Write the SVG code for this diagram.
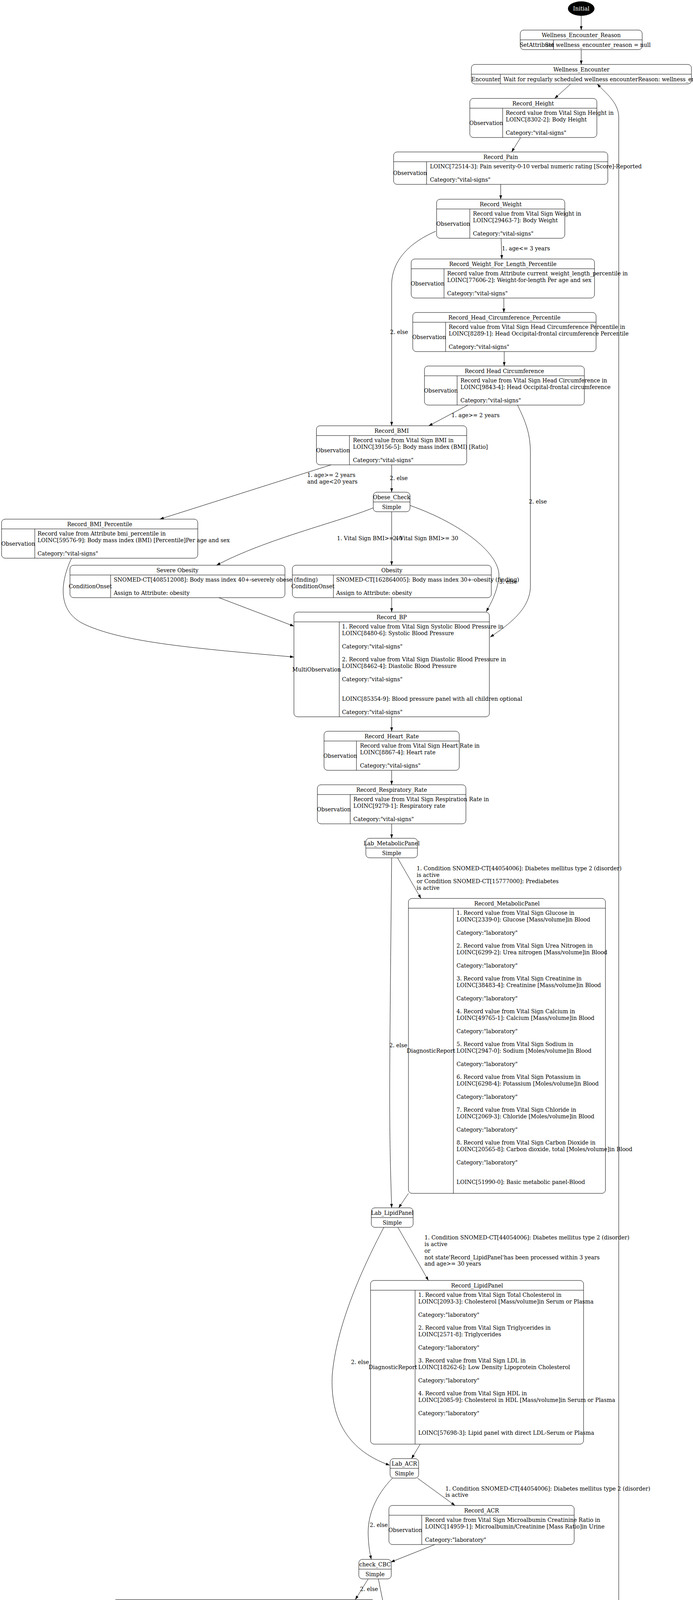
<svg xmlns="http://www.w3.org/2000/svg" width="1773" height="7166" viewBox="0 0 1773 7166">
<defs>
<style>
text{font-family:"DejaVu Serif","Liberation Serif",serif;font-size:14px;fill:#000}
.c{text-anchor:middle}
.b{fill:none;stroke:#000;stroke-width:1}
.l{stroke:#000;stroke-width:1}
#edges path{fill:none;stroke:#000;stroke-width:1;marker-end:url(#a)}
</style>
<marker id="a" viewBox="0 0 10 7" refX="10" refY="3.5" markerWidth="10" markerHeight="7" markerUnits="userSpaceOnUse" orient="auto"><path d="M0,0L10,3.5L0,7z" fill="#000"/></marker>
</defs>
<rect width="1773" height="7166" fill="#fff"/>
<g id="nodes">
<g id="n_initial"><ellipse cx="1487" cy="22" rx="34" ry="18.5" fill="#000"/><text class="c" x="1487" y="27" style="fill:#fff">Initial</text></g>
<g id="n_wer"><rect class="b" x="1331" y="77" width="312" height="50" rx="9"/><line class="l" x1="1331" y1="102" x2="1643" y2="102"/><line class="l" x1="1416" y1="102" x2="1416" y2="127"/><text class="c" x="1487" y="94.5">Wellness_Encounter_Reason</text><text class="c" x="1373.5" y="119.5">SetAttribute</text><text class="c" x="1529.5" y="119.5">Set wellness_encounter_reason = null</text></g>
<g id="n_we"><rect class="b" x="1206" y="165" width="563" height="50" rx="9"/><line class="l" x1="1206" y1="190" x2="1769" y2="190"/><line class="l" x1="1280" y1="190" x2="1280" y2="215"/><text class="c" x="1487.5" y="182.5">Wellness_Encounter</text><text class="c" x="1243" y="207.5">Encounter</text><text x="1288" y="207.5">Wait for regularly scheduled wellness encounterReason: wellness_encounter_reason</text></g>
<g id="n_height"><rect class="b" x="1202" y="252" width="325" height="100" rx="9"/><line class="l" x1="1202" y1="277" x2="1527" y2="277"/><line class="l" x1="1286" y1="277" x2="1286" y2="352"/><text class="c" x="1364" y="269.5">Record_Height</text><text class="c" x="1244" y="319.5">Observation</text><text x="1294" y="294.4">Record value from Vital Sign Height in</text><text x="1294" y="311.2">LOINC[8302-2]: Body Height</text><text x="1294" y="344.8">Category:"vital-signs"</text></g>
<g id="n_pain"><rect class="b" x="1007" y="389" width="548" height="83" rx="9"/><line class="l" x1="1007" y1="414" x2="1555" y2="414"/><line class="l" x1="1091.5" y1="414" x2="1091.5" y2="472"/><text class="c" x="1281" y="406.5">Record_Pain</text><text class="c" x="1049" y="448">Observation</text><text x="1100" y="431.4">LOINC[72514-3]: Pain severity-0-10 verbal numeric rating [Score]-Reported</text><text x="1100" y="465">Category:"vital-signs"</text></g>
<g id="n_weight"><rect class="b" x="1117" y="510" width="328" height="100" rx="9"/><line class="l" x1="1117" y1="535" x2="1445" y2="535"/><line class="l" x1="1202" y1="535" x2="1202" y2="610"/><text class="c" x="1281" y="527.5">Record_Weight</text><text class="c" x="1159.5" y="577.5">Observation</text><text x="1210" y="552.4">Record value from Vital Sign Weight in</text><text x="1210" y="569.2">LOINC[29463-7]: Body Weight</text><text x="1210" y="602.8">Category:"vital-signs"</text></g>
<g id="n_wfl"><rect class="b" x="1052" y="663" width="469" height="100" rx="9"/><line class="l" x1="1052" y1="688" x2="1521" y2="688"/><line class="l" x1="1136" y1="688" x2="1136" y2="763"/><text class="c" x="1286.5" y="680.5">Record_Weight_For_Length_Percentile</text><text class="c" x="1094" y="730.5">Observation</text><text x="1144" y="705.4">Record value from Attribute current_weight_length_percentile in</text><text x="1144" y="722.2">LOINC[77606-2]: Weight-for-length Per age and sex</text><text x="1144" y="755.8">Category:"vital-signs"</text></g>
<g id="n_hcp"><rect class="b" x="1056" y="800" width="469" height="100" rx="9"/><line class="l" x1="1056" y1="825" x2="1525" y2="825"/><line class="l" x1="1140" y1="825" x2="1140" y2="900"/><text class="c" x="1290.5" y="817.5">Record_Head_Circumference_Percentile</text><text class="c" x="1098" y="867.5">Observation</text><text x="1148" y="842.4">Record value from Vital Sign Head Circumference Percentile in</text><text x="1148" y="859.2">LOINC[8289-1]: Head Occipital-frontal circumference Percentile</text><text x="1148" y="892.8">Category:"vital-signs"</text></g>
<g id="n_hc"><rect class="b" x="1086" y="937" width="409" height="100" rx="9"/><line class="l" x1="1086" y1="962" x2="1495" y2="962"/><line class="l" x1="1169.5" y1="962" x2="1169.5" y2="1037"/><text class="c" x="1290.5" y="954.5">Record Head Circumference</text><text class="c" x="1128" y="1004.5">Observation</text><text x="1178" y="979.4">Record value from Vital Sign Head Circumference in</text><text x="1178" y="996.2">LOINC[9843-4]: Head Occipital-frontal circumference</text><text x="1178" y="1029.8">Category:"vital-signs"</text></g>
<g id="n_bmi"><rect class="b" x="809.5" y="1090" width="384.5" height="100" rx="9"/><line class="l" x1="809.5" y1="1115" x2="1194" y2="1115"/><line class="l" x1="894" y1="1115" x2="894" y2="1190"/><text class="c" x="1002" y="1107.5">Record_BMI</text><text class="c" x="852" y="1157.5">Observation</text><text x="903" y="1132.4">Record value from Vital Sign BMI in</text><text x="903" y="1149.2">LOINC[39156-5]: Body mass index (BMI) [Ratio]</text><text x="903" y="1182.8">Category:"vital-signs"</text></g>
<g id="n_obese_check"><rect class="b" x="955" y="1260" width="94" height="50" rx="9"/><line class="l" x1="955" y1="1285" x2="1049" y2="1285"/><text class="c" x="1002" y="1277.5">Obese_Check</text><text class="c" x="1002" y="1302.5">Simple</text></g>
<g id="n_bmi_pct"><rect class="b" x="4" y="1329" width="502" height="100" rx="9"/><line class="l" x1="4" y1="1354" x2="506" y2="1354"/><line class="l" x1="89" y1="1354" x2="89" y2="1429"/><text class="c" x="255" y="1346.5">Record_BMI_Percentile</text><text class="c" x="46.5" y="1396.5">Observation</text><text x="96" y="1371.4">Record value from Attribute bmi_percentile in</text><text x="96" y="1388.2">LOINC[59576-9]: Body mass index (BMI) [Percentile]Per age and sex</text><text x="96" y="1421.8">Category:"vital-signs"</text></g>
<g id="n_severe"><rect class="b" x="179" y="1447" width="550" height="83" rx="9"/><line class="l" x1="179" y1="1472" x2="729" y2="1472"/><line class="l" x1="283" y1="1472" x2="283" y2="1530"/><text class="c" x="454" y="1464.5">Severe Obesity</text><text class="c" x="231" y="1506">ConditionOnset</text><text x="291" y="1489.4">SNOMED-CT[408512008]: Body mass index 40+-severely obese (finding)</text><text x="291" y="1523">Assign to Attribute: obesity</text></g>
<g id="n_obesity"><rect class="b" x="748" y="1447" width="509" height="83" rx="9"/><line class="l" x1="748" y1="1472" x2="1257" y2="1472"/><line class="l" x1="853" y1="1472" x2="853" y2="1530"/><text class="c" x="1002.5" y="1464.5">Obesity</text><text class="c" x="800.5" y="1506">ConditionOnset</text><text x="860" y="1489.4">SNOMED-CT[162864005]: Body mass index 30+-obesity (finding)</text><text x="860" y="1523">Assign to Attribute: obesity</text></g>
<g id="n_bp"><rect class="b" x="752" y="1567" width="500" height="268" rx="9"/><line class="l" x1="752" y1="1592" x2="1252" y2="1592"/><line class="l" x1="868" y1="1592" x2="868" y2="1835"/><text class="c" x="1002" y="1584.5">Record_BP</text><text class="c" x="810" y="1718.5">MultiObservation</text><text x="875" y="1609.4">1. Record value from Vital Sign Systolic Blood Pressure in</text><text x="875" y="1626.2">LOINC[8480-6]: Systolic Blood Pressure</text><text x="875" y="1659.8">Category:"vital-signs"</text><text x="875" y="1693.4">2. Record value from Vital Sign Diastolic Blood Pressure in</text><text x="875" y="1710.2">LOINC[8462-4]: Diastolic Blood Pressure</text><text x="875" y="1743.8">Category:"vital-signs"</text><text x="875" y="1794.2">LOINC[85354-9]: Blood pressure panel with all children optional</text><text x="875" y="1827.8">Category:"vital-signs"</text></g>
<g id="n_hr"><rect class="b" x="829" y="1872" width="346" height="100" rx="9"/><line class="l" x1="829" y1="1897" x2="1175" y2="1897"/><line class="l" x1="912" y1="1897" x2="912" y2="1972"/><text class="c" x="1002" y="1889.5">Record_Heart_Rate</text><text class="c" x="870.5" y="1939.5">Observation</text><text x="921" y="1914.4">Record value from Vital Sign Heart Rate in</text><text x="921" y="1931.2">LOINC[8867-4]: Heart rate</text><text x="921" y="1964.8">Category:"vital-signs"</text></g>
<g id="n_rr"><rect class="b" x="812" y="2009" width="380" height="100" rx="9"/><line class="l" x1="812" y1="2034" x2="1192" y2="2034"/><line class="l" x1="896" y1="2034" x2="896" y2="2109"/><text class="c" x="1002" y="2026.5">Record_Respiratory_Rate</text><text class="c" x="854" y="2076.5">Observation</text><text x="904" y="2051.4">Record value from Vital Sign Respiration Rate in</text><text x="904" y="2068.2">LOINC[9279-1]: Respiratory rate</text><text x="904" y="2101.8">Category:"vital-signs"</text></g>
<g id="n_lab_meta"><rect class="b" x="936" y="2146" width="132" height="50" rx="9"/><line class="l" x1="936" y1="2171" x2="1068" y2="2171"/><text class="c" x="1002" y="2163.5">Lab_MetabolicPanel</text><text class="c" x="1002" y="2188.5">Simple</text></g>
<g id="n_meta"><rect class="b" x="1045" y="2300" width="504" height="755" rx="9"/><line class="l" x1="1045" y1="2325" x2="1549" y2="2325"/><line class="l" x1="1160" y1="2325" x2="1160" y2="3055"/><text class="c" x="1297" y="2317.5">Record_MetabolicPanel</text><text class="c" x="1102.5" y="2695">DiagnosticReport</text>
<text x="1168" y="2342.4">1. Record value from Vital Sign Glucose in</text><text x="1168" y="2359.2">LOINC[2339-0]: Glucose [Mass/volume]in Blood</text><text x="1168" y="2392.8">Category:"laboratory"</text>
<text x="1168" y="2426.4">2. Record value from Vital Sign Urea Nitrogen in</text><text x="1168" y="2443.2">LOINC[6299-2]: Urea nitrogen [Mass/volume]in Blood</text><text x="1168" y="2476.8">Category:"laboratory"</text>
<text x="1168" y="2510.4">3. Record value from Vital Sign Creatinine in</text><text x="1168" y="2527.2">LOINC[38483-4]: Creatinine [Mass/volume]in Blood</text><text x="1168" y="2560.8">Category:"laboratory"</text>
<text x="1168" y="2594.4">4. Record value from Vital Sign Calcium in</text><text x="1168" y="2611.2">LOINC[49765-1]: Calcium [Mass/volume]in Blood</text><text x="1168" y="2644.8">Category:"laboratory"</text>
<text x="1168" y="2678.4">5. Record value from Vital Sign Sodium in</text><text x="1168" y="2695.2">LOINC[2947-0]: Sodium [Moles/volume]in Blood</text><text x="1168" y="2728.8">Category:"laboratory"</text>
<text x="1168" y="2762.4">6. Record value from Vital Sign Potassium in</text><text x="1168" y="2779.2">LOINC[6298-4]: Potassium [Moles/volume]in Blood</text><text x="1168" y="2812.8">Category:"laboratory"</text>
<text x="1168" y="2846.4">7. Record value from Vital Sign Chloride in</text><text x="1168" y="2863.2">LOINC[2069-3]: Chloride [Moles/volume]in Blood</text><text x="1168" y="2896.8">Category:"laboratory"</text>
<text x="1168" y="2930.4">8. Record value from Vital Sign Carbon Dioxide in</text><text x="1168" y="2947.2">LOINC[20565-8]: Carbon dioxide, total [Moles/volume]in Blood</text><text x="1168" y="2980.8">Category:"laboratory"</text>
<text x="1168" y="3031.2">LOINC[51990-0]: Basic metabolic panel-Blood</text></g>
<g id="n_lab_lipid"><rect class="b" x="950" y="3092" width="107" height="50" rx="9"/><line class="l" x1="950" y1="3117" x2="1057" y2="3117"/><text class="c" x="1003.5" y="3109.5">Lab_LipidPanel</text><text class="c" x="1003.5" y="3134.5">Simple</text></g>
<g id="n_lipid"><rect class="b" x="948" y="3278" width="545" height="419" rx="9"/><line class="l" x1="948" y1="3303" x2="1493" y2="3303"/><line class="l" x1="1062" y1="3303" x2="1062" y2="3697"/><text class="c" x="1220.5" y="3295.5">Record_LipidPanel</text><text class="c" x="1005" y="3505">DiagnosticReport</text>
<text x="1070" y="3320.4">1. Record value from Vital Sign Total Cholesterol in</text><text x="1070" y="3337.2">LOINC[2093-3]: Cholesterol [Mass/volume]in Serum or Plasma</text><text x="1070" y="3370.8">Category:"laboratory"</text>
<text x="1070" y="3404.4">2. Record value from Vital Sign Triglycerides in</text><text x="1070" y="3421.2">LOINC[2571-8]: Triglycerides</text><text x="1070" y="3454.8">Category:"laboratory"</text>
<text x="1070" y="3488.4">3. Record value from Vital Sign LDL in</text><text x="1070" y="3505.2">LOINC[18262-6]: Low Density Lipoprotein Cholesterol</text><text x="1070" y="3538.8">Category:"laboratory"</text>
<text x="1070" y="3572.4">4. Record value from Vital Sign HDL in</text><text x="1070" y="3589.2">LOINC[2085-9]: Cholesterol in HDL [Mass/volume]in Serum or Plasma</text><text x="1070" y="3622.8">Category:"laboratory"</text>
<text x="1070" y="3673.2">LOINC[57698-3]: Lipid panel with direct LDL-Serum or Plasma</text></g>
<g id="n_lab_acr"><rect class="b" x="998" y="3734" width="73" height="50" rx="9"/><line class="l" x1="998" y1="3759" x2="1071" y2="3759"/><text class="c" x="1034.5" y="3751.5">Lab_ACR</text><text class="c" x="1034.5" y="3776.5">Simple</text></g>
<g id="n_acr"><rect class="b" x="995" y="3854" width="474" height="100" rx="9"/><line class="l" x1="995" y1="3879" x2="1469" y2="3879"/><line class="l" x1="1079" y1="3879" x2="1079" y2="3954"/><text class="c" x="1232" y="3871.5">Record_ACR</text><text class="c" x="1037" y="3921.5">Observation</text><text x="1087.5" y="3896.4">Record value from Vital Sign Microalbumin Creatinine Ratio in</text><text x="1087.5" y="3913.2">LOINC[14959-1]: Microalbumin/Creatinine [Mass Ratio]in Urine</text><text x="1087.5" y="3946.8">Category:"laboratory"</text></g>
<g id="n_check_cbc"><rect class="b" x="918" y="3992" width="83" height="50" rx="9"/><line class="l" x1="918" y1="4017" x2="1001" y2="4017"/><text class="c" x="959.5" y="4009.5">check_CBC</text><text class="c" x="959.5" y="4034.5">Simple</text></g>
<g id="n_cbc"><rect class="b" x="290" y="4095" width="669" height="822" rx="9"/><line class="l" x1="290" y1="4120" x2="959" y2="4120"/><line class="l" x1="404.5" y1="4120" x2="404.5" y2="4917"/><text class="c" x="624.5" y="4112.5">Record_CBC_Panel</text><text class="c" x="347" y="4523.5">DiagnosticReport</text>
<text x="412.5" y="4137.4">1. LOINC[6690-2]: Leukocytes [#/volume]in Blood by Automated count</text><text x="412.5" y="4171">Category:"laboratory"</text>
<text x="412.5" y="4204.6">2. LOINC[789-8]: Erythrocytes [#/volume]in Blood by Automated count</text><text x="412.5" y="4238.2">Category:"laboratory"</text>
<text x="412.5" y="4271.8">3. LOINC[718-7]: Hemoglobin [Mass/volume]in Blood</text><text x="412.5" y="4305.4">Category:"laboratory"</text>
<text x="412.5" y="4339">4. LOINC[4544-3]: Hematocrit [Volume Fraction]of Blood by Automated count</text><text x="412.5" y="4372.6">Category:"laboratory"</text>
<text x="412.5" y="4406.2">5. LOINC[787-2]: MCV [Entitic volume]by Automated count</text><text x="412.5" y="4439.8">Category:"laboratory"</text>
<text x="412.5" y="4473.4">6. LOINC[785-6]: MCH [Entitic mass]by Automated count</text><text x="412.5" y="4507">Category:"laboratory"</text>
<text x="412.5" y="4540.6">7. LOINC[786-4]: MCHC [Mass/volume]by Automated count</text><text x="412.5" y="4574.2">Category:"laboratory"</text>
<text x="412.5" y="4607.8">8. LOINC[21000-5]: Erythrocyte distribution width [Entitic volume]by Automated count</text><text x="412.5" y="4641.4">Category:"laboratory"</text>
<text x="412.5" y="4675">9. LOINC[777-3]: Platelets [#/volume]in Blood by Automated count</text><text x="412.5" y="4708.6">Category:"laboratory"</text>
<text x="412.5" y="4742.2">10. LOINC[32207-3]: Platelet distribution width [Entitic volume]in Blood by Automated count</text><text x="412.5" y="4775.8">Category:"laboratory"</text>
<text x="412.5" y="4809.4">11. LOINC[32623-1]: Platelet mean volume [Entitic volume]in Blood by Automated count</text><text x="412.5" y="4843">Category:"laboratory"</text>
<text x="412.5" y="4893.4">LOINC[58410-2]: CBC panel-Blood by Automated count</text></g>
<g id="n_check_egfr"><rect class="b" x="832" y="4954" width="89" height="50" rx="9"/><line class="l" x1="832" y1="4979" x2="921" y2="4979"/><text class="c" x="876.5" y="4971.5">check_eGFR</text><text class="c" x="876.5" y="4996.5">Simple</text></g>
<g id="n_egfr"><rect class="b" x="617" y="5107" width="913" height="100" rx="9"/><line class="l" x1="617" y1="5132" x2="1530" y2="5132"/><line class="l" x1="701" y1="5132" x2="701" y2="5207"/><text class="c" x="1073.5" y="5124.5">Record_EGFR</text><text class="c" x="659" y="5174.5">Observation</text><text x="709" y="5149.4">Record value from Vital Sign EGFR in</text><text x="709" y="5166.2">LOINC[33914-3]: Glomerular filtration rate/1.73 sq M.predicted [Volume Rate/Area]in Serum or Plasma by Creatinine-based formula (MDRD)</text><text x="709" y="5199.8">Category:"laboratory"</text></g>
<g id="n_smoker"><rect class="b" x="923" y="5244" width="176" height="50" rx="9"/><line class="l" x1="923" y1="5269" x2="1099" y2="5269"/><text class="c" x="1011" y="5261.5">Smoker_Status_Observation</text><text class="c" x="1011" y="5286.5">Simple</text></g>
<g id="n_former"><rect class="b" x="481" y="5349" width="341" height="83" rx="9"/><line class="l" x1="481" y1="5374" x2="822" y2="5374"/><line class="l" x1="564" y1="5374" x2="564" y2="5432"/><text class="c" x="651.5" y="5366.5">Record_Former_Smoker</text><text class="c" x="522.5" y="5408">Observation</text><text x="573" y="5391.4">LOINC[72166-2]: Tobacco smoking status</text><text x="573" y="5425">Category:"social-history"</text></g>
<g id="n_never"><rect class="b" x="841" y="5349" width="341" height="83" rx="9"/><line class="l" x1="841" y1="5374" x2="1182" y2="5374"/><line class="l" x1="925.5" y1="5374" x2="925.5" y2="5432"/><text class="c" x="1011.5" y="5366.5">Record_Never_Smoker</text><text class="c" x="883" y="5408">Observation</text><text x="933" y="5391.4">LOINC[72166-2]: Tobacco smoking status</text><text x="933" y="5425">Category:"social-history"</text></g>
<g id="n_current"><rect class="b" x="1201" y="5349" width="340" height="83" rx="9"/><line class="l" x1="1201" y1="5374" x2="1541" y2="5374"/><line class="l" x1="1285" y1="5374" x2="1285" y2="5432"/><text class="c" x="1371" y="5366.5">Record_Current_Smoker</text><text class="c" x="1243" y="5408">Observation</text><text x="1293" y="5391.4">LOINC[72166-2]: Tobacco smoking status</text><text x="1293" y="5425">Category:"social-history"</text></g>
<g id="n_sdoh"><rect class="b" x="966" y="5468" width="90" height="50" rx="9"/><line class="l" x1="966" y1="5493" x2="1056" y2="5493"/><text class="c" x="1011" y="5485.5">SDoH Check</text><text class="c" x="1011" y="5510.5">Simple</text></g>
<g id="n_prapare"><rect class="b" x="1040" y="5573" width="327" height="50" rx="9"/><line class="l" x1="1040" y1="5598" x2="1367" y2="5598"/><line class="l" x1="1143" y1="5598" x2="1143" y2="5623"/><text class="c" x="1203.5" y="5590.5">PRAPARE</text><text class="c" x="1091.5" y="5615.5">CallSubmodule</text><text class="c" x="1255" y="5615.5">Call submodule encounter/sdoh_hrsn</text></g>
<g id="n_anx_check"><rect class="b" x="1031" y="5660" width="158" height="50" rx="9"/><line class="l" x1="1031" y1="5685" x2="1189" y2="5685"/><text class="c" x="1110" y="5677.5">Anxiety Screening Check</text><text class="c" x="1110" y="5702.5">Simple</text></g>
<g id="n_anx"><rect class="b" x="1151" y="5763" width="370" height="50" rx="9"/><line class="l" x1="1151" y1="5788" x2="1521" y2="5788"/><line class="l" x1="1254" y1="5788" x2="1254" y2="5813"/><text class="c" x="1336" y="5780.5">Anxiety Screening</text><text class="c" x="1202.5" y="5805.5">CallSubmodule</text><text class="c" x="1387.5" y="5805.5">Call submodule encounter/anxiety_screening</text></g>
<g id="n_fall_check"><rect class="b" x="1025.5" y="5850" width="164.5" height="50" rx="9"/><line class="l" x1="1025.5" y1="5875" x2="1190" y2="5875"/><text class="c" x="1108" y="5867.5">Fall Risk Screening Check</text><text class="c" x="1108" y="5892.5">Simple</text></g>
<g id="n_fall"><rect class="b" x="1128.5" y="5954" width="376.5" height="50" rx="9"/><line class="l" x1="1128.5" y1="5979" x2="1505" y2="5979"/><line class="l" x1="1232" y1="5979" x2="1232" y2="6004"/><text class="c" x="1317" y="5971.5">Fall Risk Screening</text><text class="c" x="1180" y="5996.5">CallSubmodule</text><text class="c" x="1368.5" y="5996.5">Call submodule encounter/fall_risk_screening</text></g>
<g id="n_hark_check"><rect class="b" x="1072.5" y="6041" width="152" height="50" rx="9"/><line class="l" x1="1072.5" y1="6066" x2="1224.5" y2="6066"/><text class="c" x="1148.5" y="6058.5">HARK Screening Check</text><text class="c" x="1148.5" y="6083.5">Simple</text></g>
<g id="n_hark"><rect class="b" x="1148" y="6145" width="354" height="50" rx="9"/><line class="l" x1="1148" y1="6170" x2="1502" y2="6170"/><line class="l" x1="1251" y1="6170" x2="1251" y2="6195"/><text class="c" x="1325" y="6162.5">HARK Screening</text><text class="c" x="1199.5" y="6187.5">CallSubmodule</text><text class="c" x="1376.5" y="6187.5">Call submodule encounter/hark_screening</text></g>
<g id="n_dep_check"><rect class="b" x="1112" y="6232" width="176" height="50" rx="9"/><line class="l" x1="1112" y1="6257" x2="1288" y2="6257"/><text class="c" x="1200" y="6249.5">Depression Screening Check</text><text class="c" x="1200" y="6274.5">Simple</text></g>
<g id="n_dep"><rect class="b" x="1139" y="6336" width="388.5" height="50" rx="9"/><line class="l" x1="1139" y1="6361" x2="1527.5" y2="6361"/><line class="l" x1="1241" y1="6361" x2="1241" y2="6386"/><text class="c" x="1333" y="6353.5">Depression Screening</text><text class="c" x="1190" y="6378.5">CallSubmodule</text><text class="c" x="1384" y="6378.5">Call submodule encounter/depression_screening</text></g>
<g id="n_sub_check"><rect class="b" x="1105" y="6423" width="196" height="50" rx="9"/><line class="l" x1="1105" y1="6448" x2="1301" y2="6448"/><text class="c" x="1203" y="6440.5">Substance Use Screening Check</text><text class="c" x="1203" y="6465.5">Simple</text></g>
<g id="n_sub"><rect class="b" x="1085" y="6527" width="410" height="50" rx="9"/><line class="l" x1="1085" y1="6552" x2="1495" y2="6552"/><line class="l" x1="1188" y1="6552" x2="1188" y2="6577"/><text class="c" x="1290" y="6544.5">Substance Use Screening</text><text class="c" x="1136.5" y="6569.5">CallSubmodule</text><text class="c" x="1341.5" y="6569.5">Call submodule encounter/substance_use_screening</text></g>
<g id="n_dental"><rect class="b" x="1085" y="6615" width="110" height="50" rx="9"/><line class="l" x1="1085" y1="6640" x2="1195" y2="6640"/><text class="c" x="1140" y="6632.5">Dental Referral?</text><text class="c" x="1140" y="6657.5">Simple</text></g>
<g id="n_refer"><rect class="b" x="993" y="6718" width="107" height="50" rx="9"/><line class="l" x1="993" y1="6743" x2="1100" y2="6743"/><text class="c" x="1046.5" y="6735.5">Refer to Dentist</text><text class="c" x="1046.5" y="6760.5">Simple</text></g>
<g id="n_pediatric"><rect class="b" x="1168" y="6718" width="110" height="50" rx="9"/><line class="l" x1="1168" y1="6743" x2="1278" y2="6743"/><text class="c" x="1223" y="6735.5">Pediatric Dentist</text><text class="c" x="1223" y="6760.5">Simple</text></g>
<g id="n_ging"><rect class="b" x="572" y="6821" width="390" height="83" rx="9"/><line class="l" x1="572" y1="6846" x2="962" y2="6846"/><line class="l" x1="677" y1="6846" x2="677" y2="6904"/><text class="c" x="767" y="6838.5">Gingivitis</text><text class="c" x="624.5" y="6880">ConditionOnset</text><text x="685" y="6863.4">SNOMED-CT[66383009]: Gingivitis (disorder)</text><text x="685" y="6897">Assign to Attribute: dental_referral</text></g>
<g id="n_gosee"><rect class="b" x="980" y="6821" width="487" height="83" rx="9"/><line class="l" x1="980" y1="6846" x2="1467" y2="6846"/><line class="l" x1="1052.5" y1="6846" x2="1052.5" y2="6904"/><text class="c" x="1223.5" y="6838.5">Go see a Dentist</text><text class="c" x="1016" y="6880">Procedure</text><text x="1061" y="6863.4">SNOMED-CT[103697008]: Patient referral for dental care (procedure)</text><text x="1061" y="6897">Assign to Attribute: dental_referral</text></g>
<g id="n_patref"><rect class="b" x="640" y="6991" width="486" height="83" rx="9"/><line class="l" x1="640" y1="7016" x2="1126" y2="7016"/><line class="l" x1="712" y1="7016" x2="712" y2="7074"/><text class="c" x="883" y="7008.5">Patient referral for dental care</text><text class="c" x="676" y="7050">Procedure</text><text x="721" y="7033.4">SNOMED-CT[103697008]: Patient referral for dental care (procedure)</text><text x="721" y="7067">Reason: dental_referral</text></g>
<g id="n_end"><rect class="b" x="1095" y="7112" width="255" height="50" rx="9"/><line class="l" x1="1095" y1="7137" x2="1350" y2="7137"/><line class="l" x1="1190.5" y1="7137" x2="1190.5" y2="7162"/><text class="c" x="1222.5" y="7129.5">End_Of_Wellness_Encounter</text><text class="c" x="1143" y="7154.5">EncounterEnd</text><text class="c" x="1270" y="7154.5">End the current encounter</text></g>
</g>
<g id="edges">
<path d="M1487,40L1487,77"/>
<path d="M1487,127L1487,165"/>
<path d="M1460,215L1419,252"/>
<path d="M1332,352L1309,389"/>
<path d="M1281,472L1281,510"/>
<path d="M1282,610L1284,663"/><text x="1284" y="641">1. age&lt;= 3 years</text>
<path d="M1115,592C1050,620 1002,665 1002,730L1002,1090"/><text x="998" y="855">2. else</text>
<path d="M1289,763L1289,800"/>
<path d="M1290,900L1290,937"/>
<path d="M1197,1037L1097,1090"/><text x="1155" y="1068">1. age&gt;= 2 years</text>
<path d="M1324,1037C1345,1080 1357,1110 1357,1160L1357,1500C1357,1560 1300,1600 1254,1631"/><text x="1353" y="1289">2. else</text>
<path d="M847,1190L409,1329"/><text x="786" y="1221">1. age&gt;= 2 years</text><text x="786" y="1238">and age&lt;20 years</text>
<path d="M1002,1190L1002,1260"/><text x="997" y="1229">2. else</text>
<path d="M955,1300C870,1335 680,1380 554,1447"/><text x="862" y="1383">1. Vital Sign BMI&gt;= 40</text>
<path d="M1002,1310L1002,1447"/><text x="1005" y="1383">2. Vital Sign BMI&gt;= 30</text>
<path d="M1049,1294C1180,1340 1285,1420 1276,1480C1272,1515 1256,1545 1244,1566"/><text x="1277" y="1494">3. else</text>
<path d="M183,1429C150,1500 150,1570 220,1600C320,1645 500,1660 752,1682"/>
<path d="M560,1530L752,1603"/>
<path d="M1002,1530L1002,1567"/>
<path d="M1002,1835L1002,1872"/>
<path d="M1002,1972L1002,2009"/>
<path d="M1002,2109L1002,2146"/>
<path d="M1017,2196L1077,2300"/><text x="1066" y="2228">1. Condition SNOMED-CT[44054006]: Diabetes mellitus type 2 (disorder)</text><text x="1066" y="2245">is active</text><text x="1066" y="2261">or Condition SNOMED-CT[15777000]: Prediabetes</text><text x="1066" y="2278">is active</text>
<path d="M1002,2196C999,2500 997,2700 997,2800C997,2950 1000,3020 1002,3092"/><text x="996" y="2681">2. else</text>
<path d="M1045,3055L1020,3092"/>
<path d="M1018,3142L1096,3278"/><text x="1086" y="3173">1. Condition SNOMED-CT[44054006]: Diabetes mellitus type 2 (disorder)</text><text x="1086" y="3190">is active</text><text x="1086" y="3207">or</text><text x="1086" y="3224">not state'Record_LipidPanel'has been processed within 3 years</text><text x="1086" y="3240">and age&gt;= 30 years</text>
<path d="M982,3142C920,3260 860,3400 850,3520C845,3620 880,3710 997,3751"/><text x="898" y="3492">2. else</text>
<path d="M1075,3697L1053,3734"/>
<path d="M1068,3784L1164,3854"/><text x="1139.5" y="3815.6">1. Condition SNOMED-CT[44054006]: Diabetes mellitus type 2 (disorder)</text><text x="1139.5" y="3832">is active</text>
<path d="M1004,3784C960,3830 940,3880 942,3930C943,3960 947,3980 950,3992"/><text x="946" y="3909">2. else</text>
<path d="M1112.5,3954L1000,3999"/>
<path d="M942,4042L909,4095"/><text x="921" y="4073">2. else</text>
<path d="M968,4042C1020,4300 1049,4420 1049,4560C1049,4720 1020,4880 922,4958"/><text x="1048" y="4510">1. state'Record_CBC_Panel'has been processed within 5 years</text>
<path d="M845,4917L863,4954"/>
<path d="M904,5004L1018,5107"/><text x="999" y="5035">1. Condition SNOMED-CT[44054006]: Diabetes mellitus type 2 (disorder)</text><text x="999" y="5052">is active</text><text x="999" y="5068">or Condition SNOMED-CT[38341003]: Hypertension</text><text x="999" y="5085">is active</text>
<path d="M832,4983C720,5010 610,5050 575,5105C550,5150 550,5190 580,5215C630,5260 780,5268 923,5270"/><text x="567" y="5162">2. else</text>
<path d="M1045,5207L1027,5244"/>
<path d="M923,5281C820,5310 750,5320 714,5349"/><text x="784" y="5326">2. Attribute: quit smoking age is nil</text>
<path d="M1011,5294L1011,5349"/><text x="1005" y="5326">3. else</text>
<path d="M1087,5294L1247,5349"/><text x="1192" y="5326">1. Attribute: smoker == true</text>
<path d="M794,5432L965,5480"/>
<path d="M1011,5432L1011,5468"/>
<path d="M1230,5432L1057,5480"/>
<path d="M1057,5518L1157,5573"/><text x="1119" y="5550">1. age&gt;= 18 years</text>
<path d="M1000,5518C986,5570 982,5620 1036,5660"/><text x="990" y="5602">2. else</text>
<path d="M1177,5623L1138,5660"/>
<path d="M1163,5710L1281,5763"/><text x="1233" y="5741">50.0%</text>
<path d="M1108,5710L1105,5850"/><text x="1102" y="5792">50.0%</text>
<path d="M1273,5813L1177,5852"/>
<path d="M1158,5900L1267,5954"/><text x="1221" y="5932">70.0%</text>
<path d="M1094,5900C1074,5980 1072,6010 1111,6041"/><text x="1078" y="5983">30.0%</text>
<path d="M1270,6004L1197,6041"/>
<path d="M1192,6091L1282,6145"/><text x="1243" y="6123">30.0%</text>
<path d="M1127,6091C1095,6170 1098,6200 1138,6232"/><text x="1099" y="6175">70.0%</text>
<path d="M1290,6195L1237,6232"/>
<path d="M1232,6282L1299,6336"/><text x="1270" y="6314">80.0%</text>
<path d="M1147,6282C1085,6360 1090,6390 1128,6423"/><text x="1090" y="6365">20.0%</text>
<path d="M1296,6386L1242,6423"/>
<path d="M1224.5,6473L1268,6527"/><text x="1247" y="6505">70.0%</text>
<path d="M1109,6473C1050,6520 1025,6560 1045,6590C1055,6603 1075,6612 1087,6617"/><text x="1036" y="6556">30.0%</text>
<path d="M1247,6577L1183,6615"/>
<path d="M1117,6665L1070,6718"/><text x="1095" y="6696">2. else</text>
<path d="M1161,6665L1202,6718"/><text x="1185" y="6696">1. age&lt;= 6 years</text>
<path d="M995,6767L862,6821"/><text x="939" y="6799">25.0%</text>
<path d="M1084,6768L1162,6821"/><text x="1131" y="6799">25.0%</text>
<path d="M993,6744C750,6750 570,6780 556,6860C548,6930 580,7040 629,7079C700,7110 950,7120 1094,7129"/><text x="570" y="6951">50.0%</text>
<path d="M1223.5,6768L1223.5,6821"/><text x="1216" y="6799">else: 25.0%</text>
<path d="M1278,6753C1420,6800 1495,6840 1494,6900C1494,6970 1330,7060 1270,7112"/><text class="c" x="1524" y="6936">age&lt;2 years</text><text class="c" x="1524" y="6953">,</text><text class="c" x="1524" y="6970">else: 75.0%</text>
<path d="M796,6904L853,6991"/>
<path d="M1223.5,6904L1223.5,7112"/>
<path d="M1018.6,7074L1145,7112"/>
<path d="M1350,7124C1450,7100 1583,7080 1583,7000L1583,300C1583,262 1548,237 1528,215"/>
</g>
</svg>
